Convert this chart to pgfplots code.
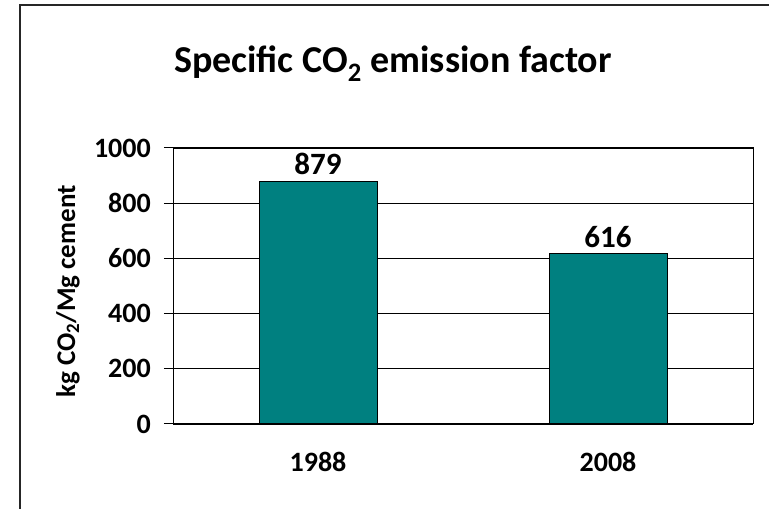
\documentclass[border=0pt]{standalone}
\usepackage{pgfplots}
\pgfplotsset{compat=1.18}
\usepackage{fontspec}
\setmainfont{Carlito}
\definecolor{barteal}{HTML}{008080}
\begin{document}
\begin{tikzpicture}
\useasboundingbox (0,0) rectangle (769pt,509pt);
\draw[line width=2pt, black!85] (20pt,0) -- (20pt,504pt) -- (769pt,504pt);
\node[font=\fontsize{38}{44}\selectfont\bfseries, anchor=base] at (393pt,436pt) {Specific CO\textsubscript{2} emission factor};
\begin{axis}[
  at={(173pt,85pt)}, anchor=south west,
  scale only axis, width=580pt, height=276pt,
  xmin=-0.5, xmax=1.5, ymin=0, ymax=1000,
  ytick={0,200,400,600,800,1000},
  xtick={0,1}, xticklabels={1988,2008},
  minor xtick={-0.5,0.5,1.5},
  xtick style={draw=none},
  tick align=outside,
  major tick length=9pt, minor tick length=9pt,
  xtick pos=left, ytick pos=left,
  ymajorgrids, grid style={black, line width=0.8pt},
  axis line style={black, line width=1pt},
  tick style={black, line width=1pt},
  /pgf/number format/assume math mode=true,
  /pgf/number format/1000 sep={},
  ticklabel style={font=\fontsize{28}{32}\selectfont\bfseries},
  yticklabel style={inner sep=0pt, xshift=-13pt},
  xticklabel style={inner sep=0pt, yshift=-19pt},
  ylabel={kg CO\textsubscript{2}/Mg cement},
  ylabel style={font=\fontsize{27}{32}\selectfont\bfseries, at={(axis description cs:-0.181,0.48)}, anchor=center},
  ybar, bar width=118pt,
  nodes near coords,
  nodes near coords style={font=\fontsize{31}{36}\selectfont\bfseries, anchor=base, inner sep=0pt, yshift=6.5pt},
]
\addplot[fill=barteal, draw=black, line width=1pt] coordinates {(0,879) (1,616)};
\end{axis}
\end{tikzpicture}
\end{document}
